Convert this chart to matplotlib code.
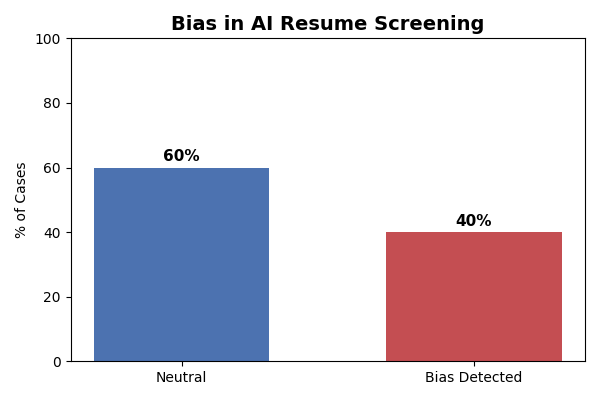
import matplotlib
matplotlib.use("Agg")
import matplotlib.pyplot as plt

categories = ["Neutral", "Bias Detected"]
values = [60, 40]
colors = ["#4C72B0", "#C44E52"]

fig, ax = plt.subplots(figsize=(6, 4), dpi=100)
bars = ax.bar(categories, values, color=colors, width=0.6)
for b, v in zip(bars, values):
    ax.text(b.get_x() + b.get_width() / 2, v + 1, f"{v}%", ha="center", va="bottom",
            fontsize=11, fontweight="bold")
ax.set_ylim(0, 100)
ax.set_ylabel("% of Cases")
ax.set_title("Bias in AI Resume Screening", fontsize=14, fontweight="bold")
fig.tight_layout()
fig.savefig("out.png")
